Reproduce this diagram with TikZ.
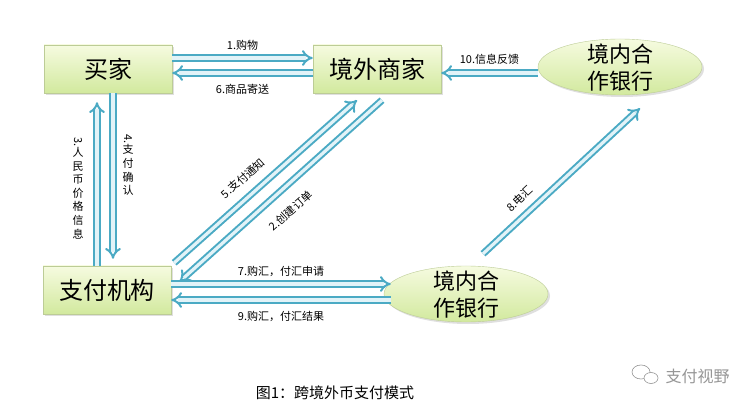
\documentclass[tikz,border=0pt]{standalone}
\usepackage{fontspec}
\setmainfont{Noto Sans CJK SC}
\usetikzlibrary{arrows.meta, positioning, shapes, shadows}
\definecolor{boxtop}{RGB}{246,251,224}
\definecolor{boxbot}{RGB}{210,233,158}
\definecolor{boxedge}{RGB}{188,204,150}
\definecolor{flowteal}{RGB}{75,170,196}
\definecolor{flowfill}{RGB}{226,243,248}
\definecolor{markgray}{RGB}{150,150,150}

\tikzset{
  party/.style={rectangle, draw=boxedge, top color=boxtop, bottom color=boxbot,
    minimum width=128pt, minimum height=48pt, inner sep=0pt,
    font=\fontsize{24}{28}\selectfont,
    drop shadow={opacity=0.25, shadow xshift=2pt, shadow yshift=-2pt}},
  bank/.style={ellipse, draw=boxedge, top color=boxtop, bottom color=boxbot,
    minimum width=164pt, minimum height=56pt, inner sep=0pt,
    drop shadow={opacity=0.25, shadow xshift=2pt, shadow yshift=-2pt}},
  banktext/.style={align=center, font=\fontsize{22}{27}\selectfont},
  flow/.style={draw=flowteal, line width=2pt, double=flowfill,
    double distance=3.2pt, -{Implies}},
  lbl/.style={font=\fontsize{11}{13}\selectfont},
  vlbl/.style={font=\fontsize{11}{13.6}\selectfont, align=center, inner sep=0pt}
}

\begin{document}
\begin{tikzpicture}[x=1pt, y=-1pt]
    \useasboundingbox[fill=white] (0,0) rectangle (734,414);

    % Parties
    \node[party] (buyer) at (108,69) {买家};
    \node[party] (merchant) at (377,69) {境外商家};
    \node[party] (agency) at (107,290) {支付机构};
    \node[bank] (topbank) at (620,67) {};
    \node[banktext] (topbanktext) at (620,68) {境内合\\作银行};
    \node[bank] (botbank) at (466,294) {};
    \node[banktext] (botbanktext) at (466,295) {境内合\\作银行};

    % Buyer <-> merchant
    \draw[flow] ([yshift=11pt]buyer.east) -- ([yshift=11pt]merchant.west)
        node[lbl, midway, above=3pt] {1.购物};
    \draw[flow] ([yshift=-4pt]merchant.west) -- ([yshift=-4pt]buyer.east)
        node[lbl, midway, below=7pt] {6.商品寄送};
    \draw[flow] ([yshift=-6pt]topbank.west) -- ([yshift=-4pt]merchant.east)
        node[lbl, midway, above=4pt] {10.信息反馈};

    % Buyer <-> agency
    \draw[flow] ([xshift=-10pt]agency.north) -- ([xshift=-11pt,yshift=-9pt]buyer.south);
    \node[vlbl] (pricelbl) at (78,188)
        {\rotatebox{-90}{3.}\\人\\民\\币\\价\\格\\信\\息};
    \draw[flow] ([xshift=5pt]buyer.south) -- ([xshift=6pt,yshift=7pt]agency.north);
    \node[vlbl] (confirmlbl) at (128,165)
        {\rotatebox{-90}{4.}\\支\\付\\确\\认};

    % Agency <-> merchant
    \draw[flow] ([xshift=3pt,yshift=3pt]agency.north east) -- ([xshift=-20pt,yshift=-7pt]merchant.south)
        node[lbl, pos=0.44, sloped, above=8pt] {5.支付通知};
    \draw[flow] ([xshift=5pt,yshift=-7pt]merchant.south) -- ([xshift=8pt,yshift=8pt]agency.east)
        node[lbl, pos=0.52, sloped, below=12pt] {2.创建订单};

    % Agency <-> domestic bank
    \draw[flow] ([yshift=6pt]agency.east) -- ([xshift=7pt,yshift=10pt]botbank.west)
        node[lbl, midway, above=3pt] {7.购汇，付汇申请};
    \draw[flow] ([xshift=7pt,yshift=-6pt]botbank.west) -- ([yshift=-10pt]agency.east)
        node[lbl, midway, below=7pt] {9.购汇，付汇结果};
    \draw[flow] ([xshift=17pt,yshift=12pt]botbank.north) -- ([xshift=20pt,yshift=-13pt]topbank.south)
        node[lbl, pos=0.3, sloped, above=6pt] {8.电汇};

    % Caption and mark
    \node[font=\fontsize{15}{18}\selectfont] (caption) at (335,393) {图1：跨境外币支付模式};
    \draw[markgray, line width=0.6pt] (641,372) ellipse (9 and 7);
    \draw[markgray, line width=0.6pt, fill=white] (651,378) ellipse (7 and 5.5);
    \node[font=\fontsize{16}{19}\selectfont, text=markgray, anchor=west] (mark) at (662,376) {支付视野};
\end{tikzpicture}
\end{document}
